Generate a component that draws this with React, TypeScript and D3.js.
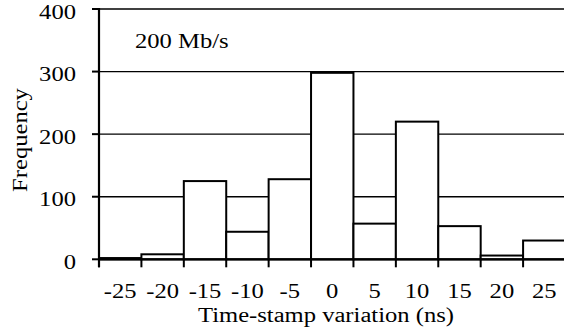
import React from "react";
import * as d3 from "d3";

const categories = ["-25", "-20", "-15", "-10", "-5", "0", "5", "10", "15", "20", "25"];
const frequencies = [2, 8, 125, 44, 128, 298, 57, 220, 53, 6, 30];
const yTicks = [0, 100, 200, 300, 400];
const annotation = "200 Mb/s";
const xTitle = "Time-stamp variation (ns)";
const yTitle = "Frequency";

const W = 564;
const H = 334;
const left = 99;
const right = 565.5;
const top = 9;
const bottom = 259.3;
const font = "'Liberation Serif', 'Times New Roman', Times, serif";
const SX = 1.23;

function T(props: { x: number; y: number; anchor?: string; rotate?: number; children: React.ReactNode }) {
  const { x, y, anchor = "start", rotate = 0, children } = props;
  return (
    <text
      transform={`translate(${x},${y}) rotate(${rotate}) scale(${SX},1)`}
      x={0}
      y={0}
      textAnchor={anchor}
      fontSize={20}
      fill="#000"
      style={{ fontFamily: font }}
    >
      {children}
    </text>
  );
}

export default function App() {
  const x = d3.scaleBand<string>().domain(categories).range([left, right]).paddingInner(0).paddingOuter(0);
  const y = d3.scaleLinear().domain([0, 400]).range([bottom, top]);
  const bw = x.bandwidth();
  const boundaries = categories.map((c) => x(c) as number);

  return (
    <svg width={W} height={H} style={{ position: "absolute", left: 0, top: 0, background: "#fff" }}>
      <rect x={0} y={0} width={W} height={H} fill="#fff" />
      {yTicks.filter((t) => t > 0).map((t) => (
        <line key={"g" + t} x1={left} x2={W} y1={y(t)} y2={y(t)} stroke="#000" strokeWidth={1.4} />
      ))}
      {categories.map((c, i) => (
        <rect
          key={"b" + c}
          x={x(c) as number}
          y={y(frequencies[i])}
          width={bw}
          height={bottom - y(frequencies[i])}
          fill="#fff"
          stroke="#000"
          strokeWidth={2}
        />
      ))}
      <line x1={left} x2={W} y1={bottom} y2={bottom} stroke="#000" strokeWidth={2.2} />
      {boundaries.map((b, i) => (
        <line key={"xt" + i} x1={b} x2={b} y1={bottom} y2={bottom + 8} stroke="#000" strokeWidth={2} />
      ))}
      {categories.map((c) => (
        <T key={"xl" + c} x={(x(c) as number) + bw / 2} y={297.5} anchor="middle">
          {c}
        </T>
      ))}
      <line x1={left} x2={left} y1={top - 1} y2={bottom + 8} stroke="#000" strokeWidth={2.2} />
      {yTicks.map((t) => (
        <g key={"yt" + t}>
          <line x1={left - 7} x2={left} y1={y(t)} y2={y(t)} stroke="#000" strokeWidth={2} />
          <T x={76} y={y(t) + 9.7} anchor="end">
            {t}
          </T>
        </g>
      ))}
      <T x={135} y={48}>{annotation}</T>
      <T x={326} y={322} anchor="middle">
        {xTitle}
      </T>
      <T x={26.5} y={140} anchor="middle" rotate={-90}>
        {yTitle}
      </T>
    </svg>
  );
}
